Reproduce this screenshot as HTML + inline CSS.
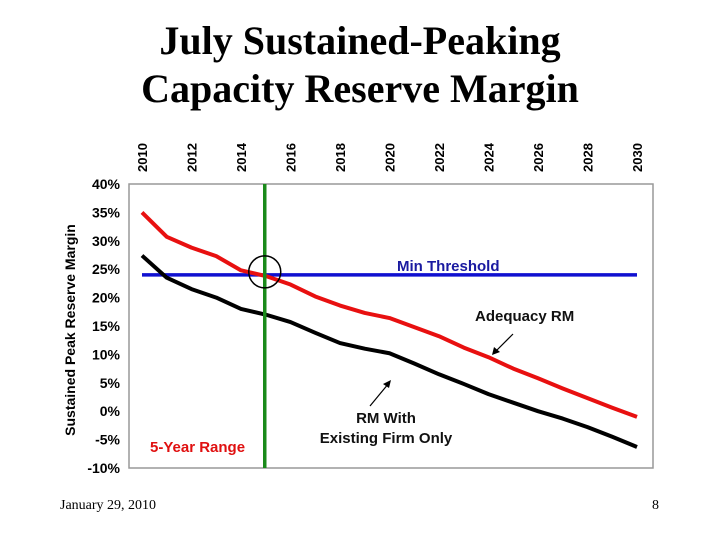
<!DOCTYPE html>
<html><head><meta charset="utf-8"><style>
body{margin:0;background:#fff;width:720px;height:540px;overflow:hidden}
svg text{font-family:"Liberation Sans",sans-serif;font-weight:bold}
</style></head><body>
<svg width="720" height="540">
<text x="360" y="54" text-anchor="middle" style="font-family:'Liberation Serif',serif;font-weight:bold;font-size:40px">July Sustained-Peaking</text>
<text x="360" y="102" text-anchor="middle" style="font-family:'Liberation Serif',serif;font-weight:bold;font-size:40px">Capacity Reserve Margin</text>
<rect x="129" y="184" width="524" height="284" fill="#fff" stroke="#999" stroke-width="1.5"/>
<g id="yt"></g>
<g id="xt"></g>
<text transform="translate(75,330) rotate(-90)" text-anchor="middle" font-size="14">Sustained Peak Reserve Margin</text>
<g id="marks"></g>
<text x="397" y="271" font-size="15" fill="#1a1aa0">Min Threshold</text>
<text x="475" y="321" font-size="15" fill="#111">Adequacy RM</text>
<line x1="513" y1="334" x2="494" y2="353" stroke="#000" stroke-width="1.2"/>
<polygon points="492,355 494,347 500,352" fill="#000"/>
<text x="386" y="423" font-size="15" text-anchor="middle" fill="#111">RM With</text>
<text x="386" y="443" font-size="15" text-anchor="middle" fill="#111">Existing Firm Only</text>
<line x1="370" y1="406" x2="389" y2="383" stroke="#000" stroke-width="1.2"/>
<polygon points="391,380 389,388 383,384" fill="#000"/>
<text x="150" y="452" font-size="15" fill="#e01010">5-Year Range</text>
<text x="60" y="509" style="font-family:'Liberation Serif',serif;font-weight:normal;font-size:14px">January 29, 2010</text>
<text x="659" y="509" text-anchor="end" style="font-family:'Liberation Serif',serif;font-weight:normal;font-size:14px">8</text>
</svg>
<script>
const years=[2010,2011,2012,2013,2014,2015,2016,2017,2018,2019,2020,2021,2022,2023,2024,2025,2026,2027,2028,2029,2030];
const adequacyRM=[35,30.7,28.8,27.3,24.8,23.8,22.3,20.2,18.6,17.3,16.4,14.8,13.2,11.2,9.5,7.5,5.8,4,2.3,0.6,-1];
const existingRM=[27.4,23.5,21.5,20,18,17,15.7,13.8,12,11,10.2,8.4,6.5,4.8,3,1.5,0,-1.3,-2.8,-4.5,-6.3];
const threshold=24;
const rangeYear=2015;
const yTicks=[40,35,30,25,20,15,10,5,0,-5,-10];
const xTicks=[2010,2012,2014,2016,2018,2020,2022,2024,2026,2028,2030];
const NS='http://www.w3.org/2000/svg';
const X=y=>142+(y-2010)*24.75;
const Y=v=>184+(40-v)*5.68;
function mk(t,a,p){const e=document.createElementNS(NS,t);for(const k in a)e.setAttribute(k,a[k]);document.getElementById(p).appendChild(e);return e;}
yTicks.forEach(v=>{const e=mk('text',{x:120,y:Y(v)+5,'text-anchor':'end','font-size':14},'yt');e.textContent=v+'%';

});
xTicks.forEach(v=>{const e=mk('text',{transform:`translate(${X(v)+5},172) rotate(-90)`,'font-size':13},'xt');e.textContent=v;

});
function line(d,c,n){const p=mk('polyline',{points:years.map((y,i)=>X(y)+','+Y(d[i])).join(' '),fill:'none',stroke:c,'stroke-width':4,'stroke-linejoin':'round'},'marks');

}
const t=mk('line',{x1:X(years[0]),x2:X(years[years.length-1]),y1:Y(threshold),y2:Y(threshold),stroke:'#1010d0','stroke-width':3.5},'marks');


line(existingRM,'#000','existing-firm-line');
line(adequacyRM,'#e81010','adequacy-rm-line');
const g=mk('line',{x1:X(rangeYear)-1,x2:X(rangeYear)-1,y1:184,y2:468,stroke:'#1a8a1a','stroke-width':3.5},'marks');


const c=mk('circle',{cx:X(rangeYear)-1,cy:Y(threshold)-3,r:16,fill:'none',stroke:'#000','stroke-width':1.5},'marks');


</script>
</body></html>
